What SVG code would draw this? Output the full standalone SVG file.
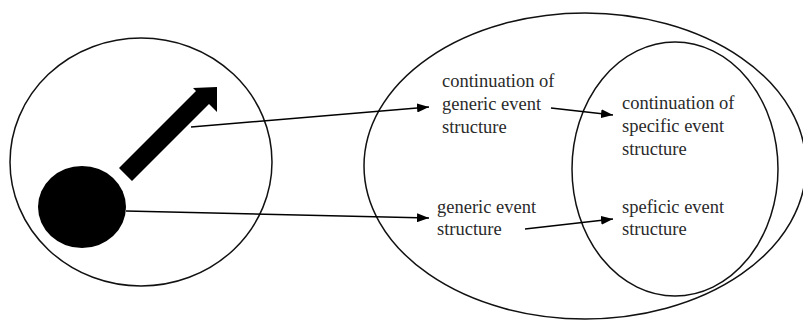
<svg xmlns="http://www.w3.org/2000/svg" width="803" height="320" viewBox="0 0 803 320">
  <defs>
    <marker id="ah" markerWidth="12" markerHeight="9" refX="12" refY="4.5" orient="auto" markerUnits="userSpaceOnUse">
      <path d="M0,0 L12,4.5 L0,9 Z" fill="#000"/>
    </marker>
    <style>
      .ell { fill: none; stroke: #111; stroke-width: 1.5; }
      .lbl { font-family: "Liberation Serif", "Times New Roman", serif; font-size: 18.5px; fill: #2a2a2a; }
      .con { stroke: #000; stroke-width: 1.6; fill: none; marker-end: url(#ah); }
    </style>
  </defs>
  <rect width="803" height="320" fill="#fff"/>

  <g id="left-circle">
    <ellipse class="ell" cx="141" cy="162" rx="131" ry="124"/>
    <ellipse cx="82" cy="207" rx="44" ry="41" fill="#000"/>
    <polygon points="119,168 196,91 193,88 217,87 217,112 209,104 132,181" fill="#000"/>
  </g>

  <g id="generic-ellipse">
    <ellipse class="ell" cx="585" cy="166" rx="221" ry="153"/>
  </g>

  <g id="specific-ellipse">
    <ellipse class="ell" cx="675" cy="169" rx="103" ry="127"/>
  </g>

  <g id="continuation-generic">
    <text class="lbl" x="442" y="87">continuation of</text>
    <text class="lbl" x="442" y="110">generic event</text>
    <text class="lbl" x="442" y="133">structure</text>
  </g>

  <g id="continuation-specific">
    <text class="lbl" x="622" y="109">continuation of</text>
    <text class="lbl" x="622" y="132">specific event</text>
    <text class="lbl" x="622" y="155">structure</text>
  </g>

  <g id="generic">
    <text class="lbl" x="437" y="213">generic event</text>
    <text class="lbl" x="437" y="235">structure</text>
  </g>

  <g id="specific">
    <text class="lbl" x="622" y="213">speficic event</text>
    <text class="lbl" x="622" y="235">structure</text>
  </g>

  <g id="connectors">
    <line class="con" x1="191" y1="127" x2="429" y2="107"/>
    <line class="con" x1="126" y1="211" x2="429" y2="218"/>
    <line class="con" x1="551" y1="108" x2="613" y2="115"/>
    <line class="con" x1="525" y1="229" x2="613" y2="219"/>
  </g>
</svg>
